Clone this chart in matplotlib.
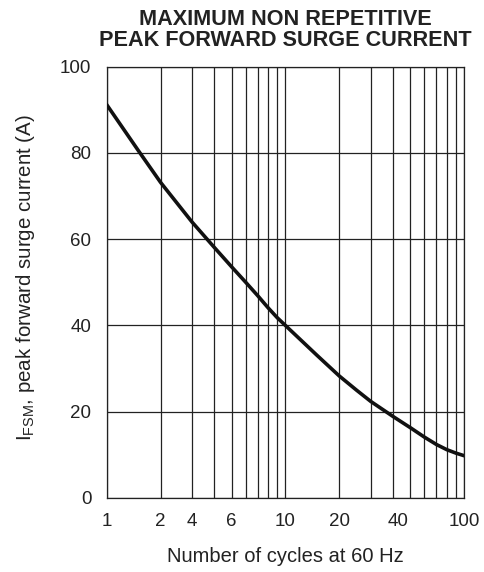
import matplotlib
matplotlib.use("Agg")
import matplotlib.pyplot as plt
from matplotlib.ticker import FixedLocator, NullFormatter
import matplotlib.transforms as mtransforms

plt.rcParams['font.family'] = ['Liberation Sans', 'DejaVu Sans']
plt.rcParams['mathtext.fontset'] = 'custom'
plt.rcParams['mathtext.rm'] = 'Liberation Sans'

# Data
cycles = [1, 1.5, 2, 3, 4, 5, 6, 7, 8, 9, 10, 15, 20, 25, 30, 40, 50, 60, 70, 80, 90, 100]
surge_current = [91.2, 80.6, 73.2, 64.0, 58.1, 53.6, 50.0, 46.9, 44.1, 41.8, 40.0,
                 33.1, 28.3, 25.0, 22.4, 18.9, 16.3, 14.1, 12.4, 11.2, 10.4, 9.8]

xtick_pos = [1, 2, 3, 5, 10, 20, 40, 100]
xtick_labels = ['1', '2', '4', '6', '10', '20', '40', '100']
ytick_pos = [0, 20, 40, 60, 80, 100]
ytick_labels = ['0', '20', '40', '60', '80', '100']
grid_x = [1, 2, 3, 4, 5, 6, 7, 8, 9, 10, 20, 30, 40, 50, 60, 70, 80, 90, 100]

title = "MAXIMUM NON REPETITIVE\nPEAK FORWARD SURGE CURRENT"
xlabel = "Number of cycles at 60 Hz"
ylabel = r"I$_{\mathregular{FSM}}$, peak forward surge current (A)"

TXT = '#222222'
fig = plt.figure(figsize=(4.85, 5.72), dpi=100)
ax = fig.add_axes([0.22, 0.1294, 0.737, 0.754])

ax.plot(cycles, surge_current, color='#111111', lw=2.6, solid_capstyle='round', zorder=3)

ax.set_xscale('log')
ax.set_xlim(1, 100)
ax.set_ylim(0, 100)

ax.xaxis.set_major_locator(FixedLocator(xtick_pos))
ax.set_xticklabels(xtick_labels)
ax.xaxis.set_minor_formatter(NullFormatter())
ax.xaxis.set_minor_locator(FixedLocator([]))
ax.set_yticks(ytick_pos)
ax.set_yticklabels(ytick_labels)

for gx in grid_x:
    ax.axvline(gx, color=TXT, lw=0.9, zorder=1)
for gy in ytick_pos:
    ax.axhline(gy, color=TXT, lw=0.9, zorder=1)

ax.tick_params(axis='both', which='both', length=0, labelsize=13.5, colors=TXT)
ax.tick_params(axis='x', pad=11)
ax.tick_params(axis='y', pad=11)
for s in ax.spines.values():
    s.set_color(TXT)
    s.set_linewidth(0.9)

for lbl in ax.get_xticklabels():
    if lbl.get_text() == '40':
        lbl.set_transform(lbl.get_transform() + mtransforms.ScaledTranslation(5/100, 0, fig.dpi_scale_trans))

ax.set_title(title, fontsize=15.6, fontweight='bold', color=TXT, pad=15, linespacing=1.02)
ax.set_xlabel(xlabel, fontsize=14.5, color=TXT)
ax.xaxis.set_label_coords(0.5, -0.114)
ax.set_ylabel(ylabel, fontsize=14.8, color=TXT)
ax.yaxis.set_label_coords(-0.195, 0.512)

fig.savefig('out.png', dpi=100)
